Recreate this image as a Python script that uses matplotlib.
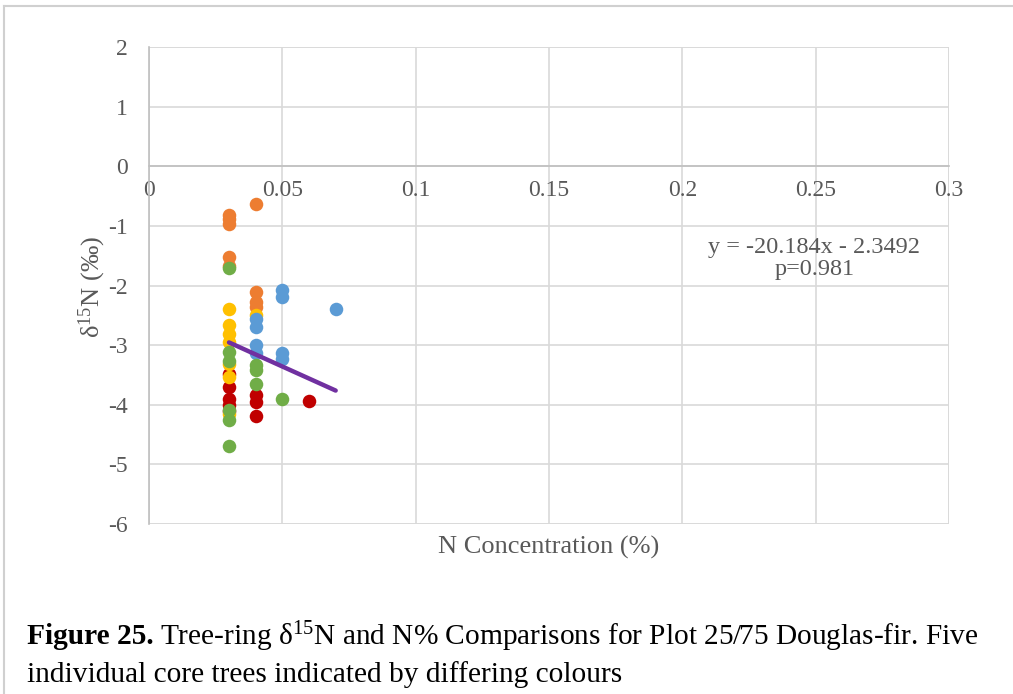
import numpy as np
import matplotlib
matplotlib.use("Agg")
import matplotlib.pyplot as plt
from matplotlib.lines import Line2D

plt.rcParams['font.family'] = ['Liberation Serif', 'DejaVu Serif']
plt.rcParams['mathtext.fontset'] = 'custom'
plt.rcParams['mathtext.rm'] = 'Liberation Serif'
plt.rcParams['mathtext.it'] = 'Liberation Serif:italic'
plt.rcParams['mathtext.bf'] = 'Liberation Serif:bold'
plt.rcParams['axes.unicode_minus'] = False

# five core trees, N% vs d15N
orange_x = [0.03, 0.03, 0.03, 0.03, 0.03, 0.04, 0.04, 0.04, 0.04]
orange_y = [-0.82, -0.88, -0.97, -1.52, -1.68, -0.63, -2.11, -2.28, -2.36]

red_x = [0.03, 0.03, 0.03, 0.03, 0.03, 0.04, 0.04, 0.04, 0.06]
red_y = [-3.48, -3.70, -3.90, -4.01, -4.10, -3.83, -3.95, -4.19, -3.94]

yellow_x = [0.03, 0.03, 0.03, 0.03, 0.03, 0.03, 0.03, 0.04]
yellow_y = [-2.40, -2.67, -2.81, -2.95, -3.31, -3.53, -4.15, -2.50]

blue_x = [0.04, 0.04, 0.04, 0.04, 0.05, 0.05, 0.05, 0.05, 0.07]
blue_y = [-2.56, -2.70, -3.00, -3.14, -2.07, -2.20, -3.13, -3.23, -2.40]

green_x = [0.03, 0.03, 0.03, 0.03, 0.03, 0.03, 0.04, 0.04, 0.04, 0.05]
green_y = [-1.70, -3.12, -3.26, -4.09, -4.26, -4.70, -3.34, -3.42, -3.66, -3.90]

trend_x = [0.03, 0.07]
slope, intercept = -20.184, -2.3492

x_ticks = [0, 0.05, 0.1, 0.15, 0.2, 0.25, 0.3]
x_tick_labels = ['0', '0.05', '0.1', '0.15', '0.2', '0.25', '0.3']
y_ticks = [2, 1, 0, -1, -2, -3, -4, -5, -6]

W, H = 1013, 694
fig = plt.figure(figsize=(W / 100, H / 100), dpi=100)
ax = fig.add_axes([149 / W, 170 / H, 800 / W, 477 / H])

grid_c = '#D9D9D9'
axis_c = '#BFBFBF'
text_c = '#595959'
tick_size = 17

ax.set_xlim(0, 0.3)
ax.set_ylim(-6, 2)
ax.set_xticks(x_ticks)
ax.set_xticklabels(x_tick_labels)
ax.set_yticks(y_ticks)
ax.grid(True, color=grid_c, linewidth=1.2, zorder=0)
ax.set_axisbelow(True)
for s in ['top', 'right']:
    ax.spines[s].set_visible(False)
ax.spines['left'].set_color(axis_c)
ax.spines['left'].set_linewidth(1.2)
ax.spines['bottom'].set_position(('data', 0))
ax.spines['bottom'].set_color(axis_c)
ax.spines['bottom'].set_linewidth(1.2)
ax.tick_params(axis='x', length=0, pad=10, labelsize=tick_size, labelcolor=text_c)
ax.tick_params(axis='y', length=0, pad=15, labelsize=tick_size, labelcolor=text_c)
# plot edges drawn as gridlines
ax.axhline(-6, color=grid_c, linewidth=1.2, zorder=0)
ax.axhline(2, color=grid_c, linewidth=1.2, zorder=0)
ax.axvline(0.3, color=grid_c, linewidth=1.2, zorder=0)

ms = 95
ax.scatter(orange_x, orange_y, s=ms, color='#ED7D31', zorder=3, linewidths=0)
ax.scatter(red_x, red_y, s=ms, color='#C00000', zorder=3, linewidths=0)
ax.scatter(yellow_x, yellow_y, s=ms, color='#FFC000', zorder=3, linewidths=0)
ax.scatter(blue_x, blue_y, s=ms, color='#5B9BD5', zorder=3, linewidths=0)
ax.scatter(green_x, green_y, s=ms, color='#70AD47', zorder=3, linewidths=0)

tx = np.array(trend_x)
ax.plot(tx, slope * tx + intercept, color='#7030A0', linewidth=3.2, zorder=4,
        solid_capstyle='round')

ax.text(0.2495, -1.55, 'y = -20.184x - 2.3492\np=0.981', ha='center', va='center',
        fontsize=17.5, color=text_c, linespacing=1.1)

fig.text(549 / W, 1 - 547 / H, 'N Concentration (%)', ha='center', va='center',
         fontsize=19, color=text_c)
fig.text(92 / W, 1 - 287 / H, r'δ$^{\mathrm{15}}$N (‰)', ha='center', va='center',
         rotation=90, fontsize=19, color=text_c)

# frame of the text box
fig.add_artist(Line2D([4 / W, 1], [1 - 6 / H, 1 - 6 / H], color='#D0D0D0', linewidth=1.5))
fig.add_artist(Line2D([4 / W, 4 / W], [0, 1 - 6 / H], color='#D0D0D0', linewidth=1.5))

# caption
cap_size = 21.2
t1 = fig.text(27 / W, 1 - 637 / H, 'Figure 25.', fontweight='bold', fontsize=cap_size,
              ha='left', va='center', color='black')
fig.canvas.draw()
bb = t1.get_window_extent(fig.canvas.get_renderer())
fig.text(bb.x1 / W + 6 / W, 1 - 637 / H,
         r'Tree-ring δ$^{\mathrm{15}}$N and N% Comparisons for Plot 25/75 Douglas-fir. Five',
         fontsize=cap_size, ha='left', va='center', color='black')
fig.text(27 / W, 1 - 675 / H, 'individual core trees indicated by differing colours',
         fontsize=cap_size, ha='left', va='center', color='black')

fig.savefig('out.png', dpi=100)
